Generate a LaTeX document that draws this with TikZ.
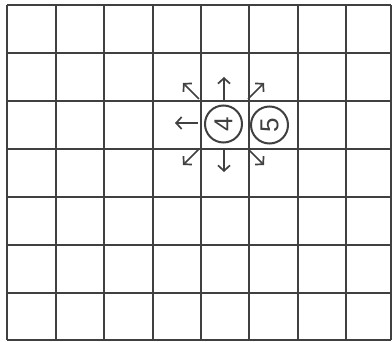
\documentclass[tikz,border=0pt]{standalone}
\usepackage{fontspec}
\setsansfont{Liberation Sans}
\usetikzlibrary{arrows.meta}
\definecolor{ink}{HTML}{404040}
\tikzset{
  gridline/.style={draw=ink, line width=2pt},
  numcircle/.style={circle, draw=ink, line width=2pt, minimum size=37pt, inner sep=0pt,
    font=\sffamily\fontsize{26}{26}\selectfont, text=ink},
  outarrow/.style={draw=ink, line width=1.7pt, -{Straight Barb[length=5.5pt,width=12pt,line width=1.7pt]}}
}
\begin{document}
\begin{tikzpicture}[x=1pt,y=-1pt]
\useasboundingbox (0,0) rectangle (392,342);
\fill[white] (0,0) rectangle (392,342);
% grid
\foreach \x in {7,55.5,104,152.5,201,249,297.5,345.5,391}
  \draw[gridline] (\x,5) -- (\x,340.5);
\foreach \y in {5,53,101,149,197,245,293.5,340.5}
  \draw[gridline] (7,\y) -- (391,\y);
% circled numbers
\node[numcircle, fill=white] (four) at (223.5,124) {\rotatebox{90}{4}};
\node[numcircle, fill=white] (five) at (269.5,125) {\rotatebox{90}{5}};
% arrow coordinates
\coordinate (uS) at (224,100);  \coordinate (uE) at (224,77);
\coordinate (dS) at (224,149);  \coordinate (dE) at (224,172);
\coordinate (lS) at (198,123);  \coordinate (lE) at (175,123);
\coordinate (ulS) at (199,99);  \coordinate (ulE) at (183,83);
\coordinate (urS) at (248,99);  \coordinate (urE) at (264,83);
\coordinate (dlS) at (199,149); \coordinate (dlE) at (183,165);
\coordinate (drS) at (248,149); \coordinate (drE) at (264,165);
\draw[outarrow] (uS) -- (uE);
\draw[outarrow] (dS) -- (dE);
\draw[outarrow] (lS) -- (lE);
\draw[outarrow] (ulS) -- (ulE);
\draw[outarrow] (urS) -- (urE);
\draw[outarrow] (dlS) -- (dlE);
\draw[outarrow] (drS) -- (drE);
\end{tikzpicture}
\end{document}
